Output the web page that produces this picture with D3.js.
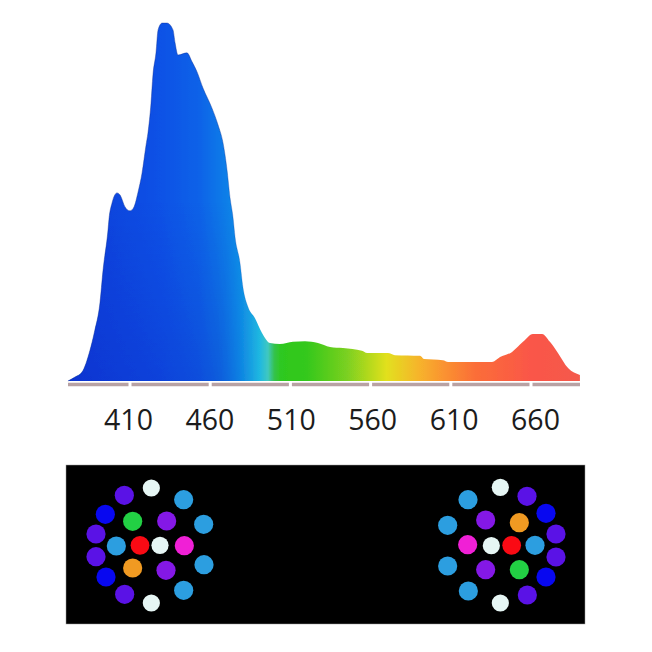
<!DOCTYPE html>
<html>
<head>
<meta charset="utf-8">
<script src="https://cdn.jsdelivr.net/npm/d3@7"></script>
<style>
html,body{margin:0;padding:0;background:#fff;}
svg{display:block;}
</style>
</head>
<body>
<svg id="chart" width="652" height="652"></svg>
<script>
const wavelengths = [371.3,375.7,380.1,385,388,391.2,393.2,396.3,396.9,398.8,401.9,403.8,406.9,410,412.5,415,417.5,420,421.2,423.1,424.3,426.2,427.5,430,433.1,436.8,438.1,439.9,445.5,448.7,451.8,455.5,461.1,464.9,468,470.5,472.3,474.2,475.5,478.6,480.4,483.6,487.9,492.3,497.3,503.5,511.6,519.1,527.2,534.7,542.8,554.6,557.8,570.8,575.2,590.8,593.3,605.1,608.3,635.7,640.7,648.2,655,661.2,666.9,671.8,676.8,683.1,690.5];
const intensities = [0,1.1,2.5,8.5,14,21.5,30.9,42.1,45.1,49.6,52.4,51.8,48.5,47.4,48.5,52.6,57.9,65.7,69.1,77.4,85.2,91.4,97.8,99.7,99.7,97.8,94.2,90.8,91.4,88.9,86.1,81.6,76,71.3,66.3,58.8,51.3,45.7,40.1,32.9,26.2,20.6,17.5,13.4,10.6,10.3,10.9,11.1,10.6,9.5,9.2,8.4,7.8,7.8,7.2,7,6.1,5.8,5.3,5.3,6.7,8.1,10.9,13.1,13.1,10.9,7.8,3.6,1.7];
const tickValues = [410,460,510,560,610,660];
const gradientWavelengths = [371,430,453,470,478,491,496,500,504,520,545,570,590,605,625,660,690];
const gradientColours = ["#0b3cd8","#0f52e6","#0d62e8","#0d7ee8","#1090e8","#20b8e0","#40c8c0","#34c24c","#2ec820","#34c81c","#7ad020","#e2e01e","#f6b42c","#fa9430","#fb6e38","#fa5648","#f45a4c"];
const ledColours = {white:"#e6f6f4",violet:"#5a12e6",sky:"#2c9ee0",blue:"#0808f0",green:"#22d044",purple:"#8418e6",red:"#fa0a14",magenta:"#f020d6",orange:"#f09a22"};
const ledRadius = {white:8.6,violet:9.6,sky:9.6,blue:9.6,green:9.6,purple:9.6,red:9.4,magenta:9.6,orange:9.6};
const leftLedU = [274,193,371,136,218,320,431,108,169,240,300,373,108,432,138,218,318,371,194,274];
const leftLedV = [84,106,119,163,184,183,193,222,258,256,256,257,290,314,351,324,331,391,403,429];
const leftLedKind = ["white","violet","sky","blue","green","purple","sky","violet","sky","red","white","magenta","violet","sky","blue","orange","purple","sky","violet","white"];
const rightLedU = [226,306,129,363,283,182,68,393,330,260,199,128,393,68,363,283,182,130,307,226];
const rightLedV = [82,109,119,160,188,180,196,222,256,256,257,254,291,318,351,329,329,393,405,429];
const rightLedKind = ["white","violet","sky","blue","orange","purple","sky","violet","sky","red","white","magenta","violet","sky","blue","green","purple","sky","violet","white"];

const svg = d3.select("#chart");
const x = d3.scaleLinear().domain([410,660]).range([130,531]);
const y = d3.scaleLinear().domain([0,100]).range([381,22]);
const labelX = d3.scaleLinear().domain([410,660]).range([128,535]);
const series = wavelengths.map((w,i)=>({w,v:intensities[i]}));
const defs = svg.append("defs");

const grad = defs.append("linearGradient").attr("id","spectrum").attr("gradientUnits","userSpaceOnUse")
  .attr("x1",x(371)).attr("x2",x(691)).attr("y1",0).attr("y2",0);
gradientWavelengths.forEach((w,i)=>grad.append("stop")
  .attr("offset",(w-371)/(691-371)).attr("stop-color",gradientColours[i]));

const shade = defs.append("linearGradient").attr("id","shade").attr("gradientUnits","userSpaceOnUse")
  .attr("x1",0).attr("x2",0).attr("y1",y(50)).attr("y2",y(0));
shade.append("stop").attr("offset",0).attr("stop-color","#0020c0").attr("stop-opacity",0);
shade.append("stop").attr("offset",1).attr("stop-color","#0020c0").attr("stop-opacity",0.3);
const fade = defs.append("linearGradient").attr("id","fade").attr("gradientUnits","userSpaceOnUse")
  .attr("x1",x(371)).attr("x2",x(691)).attr("y1",0).attr("y2",0);
[[371,1],[465,1],[490,0],[691,0]].forEach(d=>fade.append("stop")
  .attr("offset",(d[0]-371)/320).attr("stop-color","#fff").attr("stop-opacity",d[1]));
defs.append("mask").attr("id","blueOnly").append("rect")
  .attr("x",0).attr("y",0).attr("width",652).attr("height",652).attr("fill","url(#fade)");
defs.append("filter").attr("id","soft").append("feGaussianBlur").attr("stdDeviation",0.5);

const area = d3.area().curve(d3.curveMonotoneX).x(d=>x(d.w)).y0(y(0)).y1(d=>y(d.v));
const line = d3.line().curve(d3.curveMonotoneX).x(d=>x(d.w)).y(d=>y(d.v));
const spec = svg.append("g").attr("filter","url(#soft)");
spec.append("path").datum(series).attr("d",area).attr("fill","url(#spectrum)");
spec.append("path").datum(series).attr("d",area).attr("fill","url(#shade)").attr("mask","url(#blueOnly)");
spec.append("path").datum(series).attr("d",line).attr("fill","none").attr("stroke","#0a2a90").attr("stroke-opacity",0.4).attr("stroke-width",1).attr("mask","url(#blueOnly)");

// axis: a strip broken into segments at every tick
const axisStops = [x.invert(68),...tickValues,x.invert(580)];
svg.append("g").selectAll("line").data(d3.pairs(axisStops)).join("line")
  .attr("x1",(d,i)=>x(d[0])+(i?1.5:0)).attr("x2",(d,i)=>x(d[1])-(i<axisStops.length-2?1.5:0))
  .attr("y1",384.5).attr("y2",384.5).attr("stroke","#b8a2a4").attr("stroke-width",3.5);

const axis = d3.axisBottom(labelX).tickValues(tickValues).tickSize(0).tickPadding(0);
const axisG = svg.append("g").attr("transform","translate(0,410)").call(axis);
axisG.select(".domain").remove();
axisG.selectAll("text").attr("font-family","'Open Sans','Liberation Sans',sans-serif")
  .attr("font-size",28.5).attr("font-weight",400).attr("fill","#1c1c1c").attr("dy","0.71em").attr("y",0);

// LED panel
svg.append("rect").attr("x",66).attr("y",465).attr("width",519).attr("height",159)
  .attr("fill","#000").attr("stroke","#9a9a9a").attr("stroke-width",0.5);
function drawLeds(us,vs,kinds,x0){
  const u = d3.scaleLinear().domain([0,510]).range([x0,x0+170]);
  const v = d3.scaleLinear().domain([0,510]).range([460,630]);
  svg.append("g").selectAll("circle").data(us.map((d,i)=>({u:d,v:vs[i],k:kinds[i]}))).join("circle")
    .attr("cx",d=>u(d.u)).attr("cy",d=>v(d.v)).attr("r",d=>ledRadius[d.k]).attr("fill",d=>ledColours[d.k]);
}
drawLeds(leftLedU,leftLedV,leftLedKind,60);
drawLeds(rightLedU,rightLedV,rightLedKind,425);
</script>
</body>
</html>
